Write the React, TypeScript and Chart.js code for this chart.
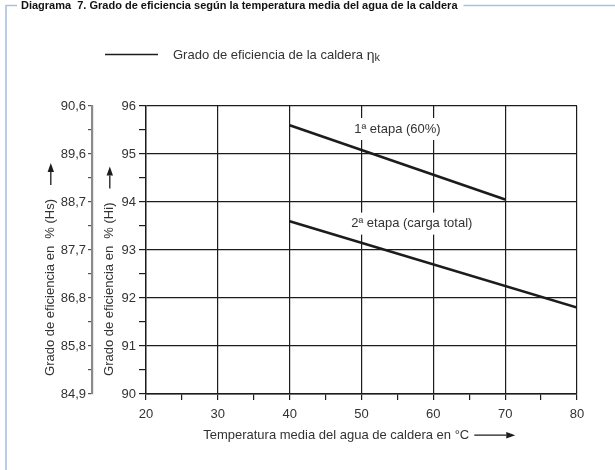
import React, { useEffect, useRef } from "react";
import { Chart, registerables } from "chart.js";

Chart.register(...registerables);

// ---- data ----
const stage1Temps = [40, 70];
const stage1Eff = [95.6, 94.05];
const stage2Temps = [40, 80];
const stage2Eff = [93.6, 91.8];

const xTickLabels = ["20", "30", "40", "50", "60", "70", "80"];
const yHiTickLabels = ["90", "91", "92", "93", "94", "95", "96"];
const yHsTickLabels = ["84,9", "85,8", "86,8", "87,7", "88,7", "89,6", "90,6"];

const seriesLabels = ["1ª etapa (60%)", "2ª etapa (carga total)"];
const seriesLabelX = [55, 57];
const seriesLabelY = [95.52, 93.55];

const chartTitle = "Diagrama  7. Grado de eficiencia según la temperatura media del agua de la caldera";
const legendText = "Grado de eficiencia de la caldera ";
const legendSymbol = "η";
const legendSub = "k";
const xTitle = "Temperatura media del agua de caldera en °C";
const yHiTitle = "Grado de eficiencia en  % (Hi)";
const yHsTitle = "Grado de eficiencia en  % (Hs)";

const FONT = "'Liberation Sans', Arial, Helvetica, sans-serif";
const DARK = "#1c1c1c";
const TEXT = "#333333";
const FRAME = "#a9c1df";

const isWhole = (v: number) => Math.abs(v - Math.round(v)) < 1e-6;

function drawArrow(ctx: CanvasRenderingContext2D, x1: number, y1: number, x2: number, y2: number) {
  const ang = Math.atan2(y2 - y1, x2 - x1);
  const headLen = 9;
  const headW = 3.2;
  const bx = x2 - Math.cos(ang) * headLen;
  const by = y2 - Math.sin(ang) * headLen;
  ctx.beginPath();
  ctx.moveTo(x1, y1);
  ctx.lineTo(bx, by);
  ctx.stroke();
  ctx.beginPath();
  ctx.moveTo(x2, y2);
  ctx.lineTo(bx + Math.sin(ang) * headW, by - Math.cos(ang) * headW);
  ctx.lineTo(bx - Math.sin(ang) * headW, by + Math.cos(ang) * headW);
  ctx.closePath();
  ctx.fill();
}

const decorPlugin = {
  id: "decor",
  beforeDraw(chart: any) {
    const ctx = chart.ctx as CanvasRenderingContext2D;
    ctx.save();
    ctx.fillStyle = "#ffffff";
    ctx.fillRect(0, 0, chart.width, chart.height);
    ctx.restore();
  },
  beforeDatasetsDraw(chart: any) {
    const ctx = chart.ctx as CanvasRenderingContext2D;
    const xs = chart.scales.x;
    const ys = chart.scales.y;
    ctx.save();
    ctx.font = `13px ${FONT}`;
    ctx.textAlign = "center";
    ctx.textBaseline = "middle";
    seriesLabels.forEach((t, i) => {
      const px = xs.getPixelForValue(seriesLabelX[i]);
      const py = ys.getPixelForValue(seriesLabelY[i]);
      const w = ctx.measureText(t).width;
      ctx.fillStyle = "#ffffff";
      ctx.fillRect(px - w / 2 - 5, py - 11, w + 10, 22);
      ctx.fillStyle = TEXT;
      ctx.fillText(t, px, py);
    });
    ctx.restore();
  },
  afterDraw(chart: any) {
    const ctx = chart.ctx as CanvasRenderingContext2D;
    ctx.save();
    // header title + frame
    ctx.font = `bold 11px ${FONT}`;
    ctx.fillStyle = "#111111";
    ctx.textBaseline = "middle";
    ctx.textAlign = "left";
    const tx = 21;
    ctx.fillText(chartTitle, tx, 6);
    const tw = ctx.measureText(chartTitle).width;
    ctx.strokeStyle = FRAME;
    ctx.lineWidth = 1.6;
    ctx.beginPath();
    ctx.moveTo(5.5, 5.5);
    ctx.lineTo(17, 5.5);
    ctx.moveTo(tx + tw + 6, 5.5);
    ctx.lineTo(chart.width, 5.5);
    ctx.moveTo(6, 5);
    ctx.lineTo(6, chart.height);
    ctx.stroke();

    // legend
    ctx.strokeStyle = DARK;
    ctx.lineWidth = 1.4;
    ctx.beginPath();
    ctx.moveTo(105, 54.5);
    ctx.lineTo(158, 54.5);
    ctx.stroke();
    ctx.font = `13px ${FONT}`;
    ctx.fillStyle = TEXT;
    ctx.fillText(legendText, 173, 55);
    const lw = ctx.measureText(legendText).width;
    ctx.font = `14px ${FONT}`;
    ctx.fillText(legendSymbol, 173 + lw, 56);
    const ew = ctx.measureText(legendSymbol).width;
    ctx.font = `11px ${FONT}`;
    ctx.fillText(legendSub, 173 + lw + ew, 58);

    // axis arrows
    ctx.strokeStyle = DARK;
    ctx.fillStyle = DARK;
    ctx.lineWidth = 1.3;
    ctx.font = `13px ${FONT}`;
    const xs = chart.scales.x;
    const xText = xs.options.title.text as string;
    const fullW = ctx.measureText(xText).width;
    const realW = ctx.measureText(xTitle).width;
    const cx = (xs.left + xs.right) / 2;
    const textEnd = cx - fullW / 2 + realW;
    const ay = xs.bottom - 7.8 - xs.options.title.padding.bottom;
    drawArrow(ctx, textEnd + 5, ay, textEnd + 46, ay);

    ["yHs", "y"].forEach((id) => {
      const s = chart.scales[id];
      const text = s.options.title.text as string;
      const w = ctx.measureText(text).width;
      const x = s.left + 7.8 + s.options.title.padding.top;
      const tail = s.bottom - w - 14;
      drawArrow(ctx, x, tail, x, tail - 22);
    });
    ctx.restore();
  },
};

export default function App() {
  const ref = useRef<HTMLCanvasElement | null>(null);

  useEffect(() => {
    if (!ref.current) return;
    const tickFont = { family: FONT, size: 13 };
    const chart = new Chart(ref.current, {
      type: "line",
      data: {
        datasets: [
          {
            label: seriesLabels[0],
            data: stage1Temps.map((t, i) => ({ x: t, y: stage1Eff[i] })),
            borderColor: DARK,
            borderWidth: 2.6,
            pointRadius: 0,
            fill: false,
            tension: 0,
            yAxisID: "y",
          },
          {
            label: seriesLabels[1],
            data: stage2Temps.map((t, i) => ({ x: t, y: stage2Eff[i] })),
            borderColor: DARK,
            borderWidth: 2.6,
            pointRadius: 0,
            fill: false,
            tension: 0,
            yAxisID: "y",
          },
        ],
      },
      options: {
        responsive: false,
        animation: false,
        devicePixelRatio: 1,
        layout: { padding: { left: 30, right: 38, top: 106, bottom: 0 } },
        plugins: {
          legend: { display: false },
          tooltip: { enabled: false },
        },
        scales: {
          x: {
            type: "linear",
            min: 20,
            max: 80,
            afterFit: (s: any) => {
              s.height = 76;
            },
            ticks: {
              stepSize: 5,
              autoSkip: false,
              maxRotation: 0,
              padding: 7,
              color: TEXT,
              font: tickFont,
              callback: (v: any) => (Number(v) % 10 === 0 ? xTickLabels[(Number(v) - 20) / 10] : ""),
            },
            grid: {
              color: (c: any) => (c.tick && Number(c.tick.value) % 10 === 0 ? DARK : "rgba(0,0,0,0)"),
              tickColor: DARK,
              tickLength: 6,
              lineWidth: 1.2,
            },
            border: { display: true, color: DARK, width: 1.4 },
            title: {
              display: true,
              text: xTitle + "              ",
              color: TEXT,
              font: { family: FONT, size: 13 },
              padding: { top: 0, bottom: 27 },
            },
          },
          y: {
            type: "linear",
            position: "left",
            weight: 0,
            min: 90,
            max: 96,
            afterFit: (s: any) => {
              s.width = 54;
            },
            ticks: {
              stepSize: 0.5,
              autoSkip: false,
              padding: 3,
              color: TEXT,
              font: tickFont,
              callback: (v: any) => (isWhole(Number(v)) ? yHiTickLabels[Math.round(Number(v)) - 90] : ""),
            },
            grid: {
              color: (c: any) => (c.tick && isWhole(Number(c.tick.value)) ? DARK : "rgba(0,0,0,0)"),
              tickColor: DARK,
              tickLength: 7,
              lineWidth: 1.2,
            },
            border: { display: true, color: DARK, width: 1.4 },
            title: {
              display: true,
              align: "start",
              text: "     " + yHiTitle,
              color: TEXT,
              font: { family: FONT, size: 13 },
              padding: { top: 10, bottom: 0 },
            },
          },
          yHs: {
            type: "linear",
            position: "left",
            weight: 10,
            min: 90,
            max: 96,
            afterFit: (s: any) => {
              s.width = 62;
            },
            ticks: {
              stepSize: 0.5,
              autoSkip: false,
              padding: 2,
              color: TEXT,
              font: tickFont,
              callback: (v: any) => (isWhole(Number(v)) ? yHsTickLabels[Math.round(Number(v)) - 90] : ""),
            },
            grid: {
              drawOnChartArea: false,
              color: "#555555",
              tickColor: "#555555",
              tickLength: 4,
              lineWidth: 1.2,
            },
            border: { display: true, color: "#8a8a8a", width: 2.2 },
            title: {
              display: true,
              align: "start",
              text: "     " + yHsTitle,
              color: TEXT,
              font: { family: FONT, size: 13 },
              padding: { top: 13, bottom: 0 },
            },
          },
        },
      } as any,
      plugins: [decorPlugin as any],
    });
    return () => chart.destroy();
  }, []);

  return (
    <div style={{ position: "absolute", left: 0, top: 0, width: 615, height: 470, background: "#fff" }}>
      <canvas ref={ref} width={615} height={470} style={{ display: "block", width: 615, height: 470 }} />
    </div>
  );
}
